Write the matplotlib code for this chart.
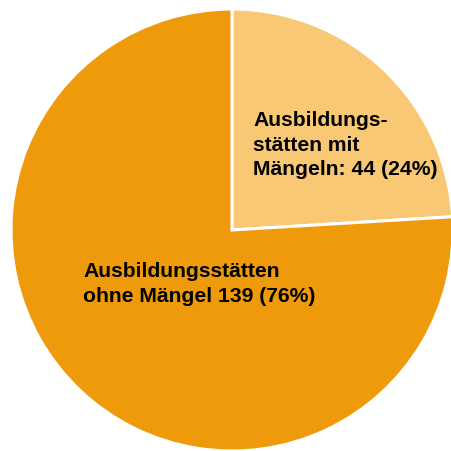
import matplotlib.pyplot as plt

# Ausbildungsstätten nach Prüfergebnis
categories = ['Ausbildungs-\nstätten mit\nMängeln', 'Ausbildungsstätten\nohne Mängel']
counts = [44, 139]
colors = ['#F9C874', '#EF9A0A']

plt.rcParams['font.family'] = ['Liberation Sans', 'DejaVu Sans']

fig = plt.figure(figsize=(4.52, 4.51), dpi=100)
ax = fig.add_axes([0, 0, 1, 1])

ax.pie(counts, colors=colors, startangle=90, counterclock=False, radius=1.0,
       wedgeprops=dict(edgecolor='white', linewidth=2.2))

# pie centre at about (232, 230) px, radius 221 px
r_px = 221.0
ax.set_xlim(-232 / r_px, (452 - 232) / r_px)
ax.set_ylim(-(451 - 230) / r_px, 230 / r_px)
ax.set_aspect('equal')
ax.axis('off')

total = sum(counts)
pct = [round(c / total * 100) for c in counts]

ax.text(253 / r_px - 232 / r_px, (230 - 111) / r_px,
        f'{categories[0]}: {counts[0]} ({pct[0]}%)',
        ha='left', va='top', fontsize=15.2, fontweight='bold', linespacing=1.38)
ax.text(83 / r_px - 232 / r_px, (230 - 262) / r_px,
        f'{categories[1]} {counts[1]} ({pct[1]}%)',
        ha='left', va='top', fontsize=15.2, fontweight='bold', linespacing=1.38)

fig.savefig('out.png', dpi=100)
